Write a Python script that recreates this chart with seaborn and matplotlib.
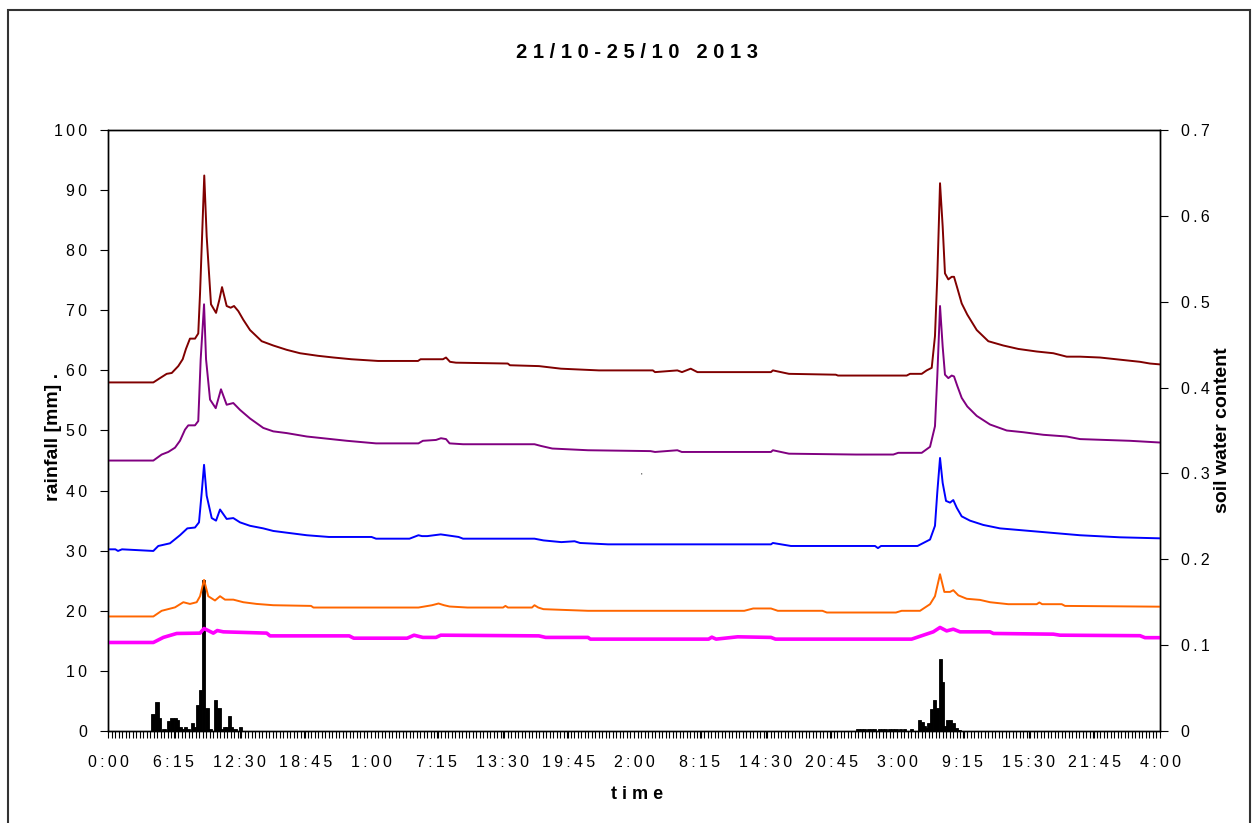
import numpy as np
import matplotlib
matplotlib.use("Agg")
import matplotlib.pyplot as plt
from matplotlib.patches import Rectangle
from matplotlib.ticker import MultipleLocator
import seaborn as sns

# hours after 21/10 0:00
time_labels = ["0:00", "6:15", "12:30", "18:45", "1:00", "7:15", "13:30", "19:45", "2:00",
               "8:15", "14:30", "20:45", "3:00", "9:15", "15:30", "21:45", "4:00"]
rain_ticks = ["0", "10", "20", "30", "40", "50", "60", "70", "80", "90", "100"]
swc_ticks = ["0", "0.1", "0.2", "0.3", "0.4", "0.5", "0.6", "0.7"]

# rainfall bars (mm)
rain_time = [4.28, 4.66, 4.90, 5.32, 5.78, 6.08, 6.39, 6.58, 6.84, 7.05, 7.37, 7.60, 8.03, 8.27,
             8.53, 8.79, 9.08, 9.41, 9.70, 10.24, 10.55, 10.81, 11.09, 11.29, 11.53, 11.77, 12.07, 12.58,
             71.3, 71.6, 71.9, 72.3, 72.6, 72.9, 73.3, 73.6, 73.9, 74.3, 74.6, 74.9, 75.3, 75.7, 76.4,
             77.11, 77.40, 77.63, 77.85, 78.04, 78.30, 78.56, 78.80, 79.12, 79.35, 79.56, 79.82,
             80.11, 80.39, 80.68, 80.9]
rain_mm = [2.8, 4.9, 2.1, 0.4, 1.6, 2.2, 2.2, 1.9, 0.7, 0.4, 0.7, 0.4, 1.3, 0.7,
           4.3, 6.8, 25.2, 3.9, 0.4, 5.2, 3.9, 0.4, 0.6, 0.7, 2.5, 0.7, 0.4, 0.7,
           0.4, 0.4, 0.4, 0.4, 0.4, 0.4, 0.4, 0.4, 0.4, 0.4, 0.4, 0.4, 0.4, 0.4, 0.3,
           1.8, 1.5, 0.9, 0.5, 1.4, 3.6, 5.2, 3.9, 11.9, 8.1, 0.9, 1.8,
           1.8, 1.4, 0.5, 0.2]

# soil water content, five depths
red_t = [0, 4.31, 4.94, 5.58, 6.06, 6.68, 7.10, 7.41, 7.79, 8.27, 8.58, 8.75, 9.15, 9.38, 9.79,
         10.27, 10.58, 10.84, 11.28, 11.66, 11.98, 12.39, 12.86, 13.50, 14.61, 15.71, 16.98, 18.25,
         19.96, 21.44, 23.13, 25.67, 29.47, 29.71, 31.84, 32.13, 32.51, 33.08, 38.0, 38.21, 40.97,
         43.06, 46.67, 51.79, 52.0, 54.12, 54.56, 55.39, 56.03, 63.02, 63.2, 64.73, 69.18, 69.39,
         75.92, 76.24, 77.35, 77.82, 78.30, 78.61, 78.83, 79.09, 79.34, 79.56, 79.88, 80.2, 80.42,
         80.73, 81.15, 81.68, 82.58, 83.68, 85.10, 86.53, 88.28, 89.86, 91.13, 92.40, 94.3, 98.1,
         99.05, 100]
red_v = [0.406, 0.406, 0.411, 0.416, 0.417, 0.425, 0.433, 0.445, 0.457, 0.457, 0.463, 0.510, 0.647,
         0.576, 0.497, 0.487, 0.502, 0.517, 0.495, 0.493, 0.495, 0.489, 0.479, 0.467, 0.454, 0.449,
         0.444, 0.440, 0.437, 0.435, 0.433, 0.431, 0.431, 0.433, 0.433, 0.435, 0.430, 0.429, 0.428,
         0.426, 0.425, 0.422, 0.420, 0.420, 0.418, 0.420, 0.418, 0.422, 0.418, 0.418, 0.420, 0.416,
         0.415, 0.414, 0.414, 0.416, 0.416, 0.420, 0.423, 0.460, 0.529, 0.638, 0.588, 0.533, 0.526,
         0.529, 0.529, 0.516, 0.498, 0.485, 0.467, 0.454, 0.449, 0.445, 0.442, 0.440, 0.436, 0.436,
         0.435, 0.430, 0.428, 0.427]

purple_t = [0, 4.31, 5.10, 5.73, 6.37, 6.84, 7.32, 7.63, 8.27, 8.58, 8.81, 9.13, 9.32, 9.70, 10.24,
            10.74, 11.28, 11.91, 12.55, 13.50, 14.76, 15.71, 16.98, 18.90, 22.72, 25.48, 29.51, 29.93,
            31.18, 31.65, 32.13, 32.47, 33.75, 40.54, 41.16, 42.23, 45.63, 51.57, 52.0, 54.12, 54.54,
            63.02, 63.2, 64.73, 71.09, 74.65, 75.12, 77.35, 78.14, 78.61, 78.83, 79.09, 79.34, 79.56,
            79.88, 80.2, 80.42, 80.73, 81.15, 81.68, 82.58, 83.84, 85.43, 87.0, 88.91, 91.13, 92.40,
            97.15, 100]
purple_v = [0.315, 0.315, 0.322, 0.325, 0.330, 0.338, 0.351, 0.356, 0.356, 0.361, 0.433, 0.497, 0.433,
            0.386, 0.376, 0.398, 0.380, 0.382, 0.374, 0.364, 0.353, 0.349, 0.347, 0.343, 0.338, 0.335,
            0.335, 0.338, 0.339, 0.341, 0.340, 0.335, 0.334, 0.334, 0.332, 0.329, 0.327, 0.326, 0.325,
            0.327, 0.325, 0.325, 0.327, 0.323, 0.322, 0.322, 0.324, 0.324, 0.331, 0.355, 0.413, 0.495,
            0.448, 0.415, 0.411, 0.414, 0.413, 0.402, 0.388, 0.378, 0.367, 0.357, 0.350, 0.348, 0.345,
            0.343, 0.340, 0.338, 0.336]

blue_t = [0, 0.7, 0.95, 1.33, 4.31, 4.78, 5.89, 6.84, 7.54, 8.27, 8.65, 8.91, 9.13, 9.38, 9.86,
          10.27, 10.65, 11.28, 11.91, 12.55, 13.50, 14.76, 15.71, 16.98, 18.90, 21.0, 25.05, 25.48,
          28.66, 29.51, 29.85, 30.35, 31.63, 33.33, 33.75, 40.54, 41.39, 43.09, 44.35, 44.87, 47.53,
          63.02, 63.2, 64.92, 72.91, 73.19, 73.48, 76.95, 78.14, 78.61, 78.83, 79.09, 79.34, 79.66,
          80.04, 80.35, 80.68, 81.15, 81.94, 83.20, 84.79, 86.69, 88.59, 90.49, 92.40, 96.2, 100]
blue_v = [0.2116, 0.2116, 0.2097, 0.2116, 0.2097, 0.2155, 0.2186, 0.228, 0.236, 0.237, 0.243, 0.278,
          0.310, 0.274, 0.248, 0.245, 0.258, 0.247, 0.248, 0.243, 0.239, 0.236, 0.233, 0.231, 0.228,
          0.226, 0.226, 0.224, 0.224, 0.228, 0.227, 0.227, 0.229, 0.226, 0.224, 0.224, 0.222, 0.220,
          0.221, 0.219, 0.2174, 0.2174, 0.219, 0.2155, 0.2155, 0.213, 0.2155, 0.2155, 0.223, 0.239,
          0.278, 0.318, 0.289, 0.268, 0.266, 0.269, 0.260, 0.250, 0.245, 0.240, 0.236, 0.234, 0.232,
          0.230, 0.228, 0.2256, 0.2244]

orange_t = [0, 4.31, 5.10, 6.37, 7.16, 7.79, 8.43, 8.75, 9.13, 9.53, 10.17, 10.65, 11.12, 11.91,
            12.86, 14.13, 15.71, 19.30, 19.53, 29.51, 30.8, 31.42, 31.94, 32.47, 34.17, 37.55, 37.78,
            38.02, 40.3, 40.54, 40.9, 41.39, 45.63, 60.48, 61.33, 63.02, 63.67, 67.91, 68.33, 74.90,
            75.44, 77.19, 78.14, 78.61, 79.09, 79.50, 80.04, 80.35, 80.83, 81.63, 82.89, 83.84, 85.58,
            88.28, 88.53, 88.8, 90.66, 90.97, 100]
orange_v = [0.1334, 0.1334, 0.140, 0.144, 0.150, 0.148, 0.150, 0.157, 0.176, 0.157, 0.152, 0.157,
            0.153, 0.153, 0.150, 0.148, 0.1465, 0.1457, 0.1438, 0.1438, 0.1465, 0.1485, 0.1465, 0.145,
            0.1438, 0.1438, 0.1457, 0.1438, 0.1438, 0.1465, 0.1438, 0.1419, 0.140, 0.140, 0.1427,
            0.1427, 0.140, 0.140, 0.138, 0.138, 0.140, 0.140, 0.1477, 0.157, 0.1826, 0.162, 0.162,
            0.164, 0.158, 0.154, 0.1527, 0.150, 0.1477, 0.1477, 0.1497, 0.1477, 0.1477, 0.1457, 0.1448]

magenta_t = [0, 4.31, 5.26, 6.53, 8.75, 9.13, 10.01, 10.39, 10.96, 15.09, 15.40, 22.93, 23.36, 28.44,
             29.09, 29.93, 31.18, 31.63, 40.96, 41.60, 45.63, 45.85, 57.09, 57.4, 57.8, 59.85, 63.02,
             63.45, 76.39, 77.50, 78.45, 79.09, 79.72, 80.35, 80.99, 83.84, 84.16, 89.86, 90.49, 98.1,
             98.57, 100]
magenta_v = [0.1031, 0.1031, 0.109, 0.1136, 0.114, 0.1194, 0.114, 0.117, 0.1155, 0.114, 0.1108,
             0.1108, 0.1081, 0.1081, 0.1116, 0.109, 0.109, 0.1116, 0.1108, 0.109, 0.109, 0.107, 0.107,
             0.1093, 0.107, 0.1097, 0.109, 0.107, 0.107, 0.1116, 0.1155, 0.1206, 0.1166, 0.1186, 0.1155,
             0.1155, 0.1136, 0.1128, 0.1116, 0.111, 0.1087, 0.1087]


def spaced(s):
    # the original chart draws its labels with wide letter spacing
    return "\u2009".join(s)


sns.set_style("white")
plt.rcParams["font.family"] = ["Liberation Sans", "DejaVu Sans"]
plt.rcParams["text.color"] = "black"
plt.rcParams["axes.labelcolor"] = "black"
plt.rcParams["xtick.color"] = "black"
plt.rcParams["ytick.color"] = "black"

fig = plt.figure(figsize=(12.59, 8.23), dpi=100)
ax = fig.add_axes([108 / 1259, 1 - 731 / 823, 1052 / 1259, 601 / 823])
ax2 = ax.twinx()

# outer chart border
fig.patches.append(Rectangle((8 / 1259, -0.02), 1242 / 1259, 1.02 - 10 / 823,
                             transform=fig.transFigure, fill=False, edgecolor="#333333", linewidth=1.5))

ax.bar(rain_time, rain_mm, width=0.3, color="black", edgecolor="black", linewidth=0.6, zorder=3)

sns.lineplot(x=magenta_t, y=magenta_v, ax=ax2, color="#FF00FF", linewidth=2.6, estimator=None)
sns.lineplot(x=orange_t, y=orange_v, ax=ax2, color="#FF6600", linewidth=1.4, estimator=None)
sns.lineplot(x=blue_t, y=blue_v, ax=ax2, color="#0000FF", linewidth=1.4, estimator=None)
sns.lineplot(x=purple_t, y=purple_v, ax=ax2, color="#800080", linewidth=1.4, estimator=None)
sns.lineplot(x=red_t, y=red_v, ax=ax2, color="#800000", linewidth=1.4, estimator=None)

ax.set_xlim(0, 100)
ax.set_ylim(0, 100)
ax2.set_ylim(0, 0.7)

ax.set_xticks(np.arange(0, 100.01, 6.25))
ax.set_xticklabels([spaced(s) for s in time_labels])
ax.xaxis.set_minor_locator(MultipleLocator(1 / 3))
ax.set_yticks([float(v) for v in rain_ticks])
ax.set_yticklabels([spaced(s) for s in rain_ticks])
ax2.set_yticks([float(v) for v in swc_ticks])
ax2.set_yticklabels([spaced(s) for s in swc_ticks])

ax.tick_params(axis="x", which="both", direction="out", length=5, width=0.8, pad=12, labelsize=11.5,
               bottom=True)
ax.tick_params(axis="y", direction="out", length=6, width=0.8, pad=9, labelsize=11.5, left=True)
ax2.tick_params(axis="y", direction="out", length=6, width=0.8, pad=9, labelsize=11.5, right=True)

for a in (ax, ax2):
    for sp in a.spines.values():
        sp.set_color("black")
        sp.set_linewidth(1.0)

ax.set_xlabel(" ".join("time"), fontsize=13, fontweight="bold", va="center")
ax.xaxis.set_label_coords(0.503, -0.106)
ax.set_ylabel("rainfall [mm] .", fontsize=14, fontweight="bold", va="center")
ax.yaxis.set_label_coords(-0.052, 0.49)
ax2.set_ylabel("soil water content", fontsize=14, fontweight="bold", va="center")
ax2.yaxis.set_label_coords(1.059, 0.50)

fig.text(637 / 1259, 1 - 53 / 823, " ".join("21/10-25/10 2013"), ha="center", va="center",
         fontsize=14.5, fontweight="bold")
ax.text(50.7, 42.4, "'", fontsize=6, ha="center", va="center")

fig.savefig("out.png", dpi=100)
